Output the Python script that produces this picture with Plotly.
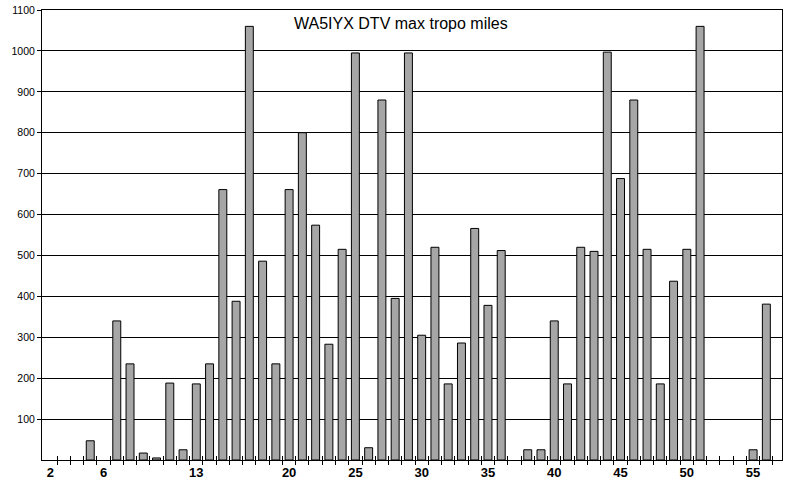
import plotly.graph_objects as go

channels = list(range(2, 57))
miles = [None, None, None, 47, None, 340, 235, 17, 5, 188, 25, 186, 235, 661, 388, 1060, 486, 235, 661, 800,
         574, 283, 515, 995, 30, 880, 395, 995, 305, 520, 186, 286, 566, 378, 512, None, 25, 25, 340, 186,
         520, 510, 997, 688, 880, 515, 186, 437, 515, 1060, None, None, None, 25, 381]
x_label_vals = [2, 6, 13, 20, 25, 30, 35, 40, 45, 50, 55]
y_tick_vals = list(range(100, 1200, 100))
title_text = "WA5IYX DTV max tropo miles"

half_ticks = [c + 0.5 for c in channels]
xrange_ = [1.36, 57.18]

fig = go.Figure()
fig.add_trace(go.Bar(
    x=channels, y=miles, width=0.6,
    marker=dict(color="#a6a6a6", line=dict(color="black", width=1)),
    hoverinfo="skip", showlegend=False,
))
fig.add_trace(go.Scatter(
    x=[channels[0]], y=[0], xaxis="x2", mode="markers",
    marker=dict(opacity=0), hoverinfo="skip", showlegend=False,
))

fig.update_layout(
    width=794, height=480,
    margin=dict(l=42, r=12, t=10, b=20),
    paper_bgcolor="white", plot_bgcolor="white",
    font=dict(family="Liberation Sans, Arial, sans-serif", color="black"),
    xaxis=dict(
        range=xrange_, tickmode="array", tickvals=x_label_vals,
        ticktext=[str(v) for v in x_label_vals], automargin=False,
        ticks="", showgrid=False, zeroline=False,
        showline=True, linecolor="black", linewidth=1, mirror=True,
        tickfont=dict(family="Liberation Sans Narrow, Arial Narrow, sans-serif", size=13, color="black", weight="bold"),
        minor=dict(tickmode="array", tickvals=half_ticks, ticks="outside", ticklen=4,
                   tickcolor="black", tickwidth=1, showgrid=False),
    ),
    xaxis2=dict(
        overlaying="x", matches="x", anchor="y", side="bottom", automargin=False,
        tickmode="array", tickvals=half_ticks, ticks="inside", ticklen=4,
        tickcolor="black", tickwidth=1, showticklabels=False,
        showgrid=False, showline=False, zeroline=False,
    ),
    yaxis=dict(
        range=[0, 1100], tickmode="array", tickvals=y_tick_vals, automargin=False,
        ticks="outside", ticklen=4, tickcolor="black",
        showgrid=True, gridcolor="black", gridwidth=1, zeroline=False,
        showline=True, linecolor="black", linewidth=1, mirror=True,
        tickfont=dict(family="Liberation Sans, Arial, sans-serif", size=10.5, color="black"),
    ),
    annotations=[dict(
        text=title_text, xref="paper", yref="paper", x=0.485, y=0.97,
        xanchor="center", yanchor="middle", showarrow=False,
        font=dict(family="Liberation Sans, Arial, sans-serif", size=16, color="black"),
    )],
)

fig.write_html("out.html", config={"displayModeBar": False},
               post_script="document.body.style.margin='0px';document.body.style.padding='0px';")
